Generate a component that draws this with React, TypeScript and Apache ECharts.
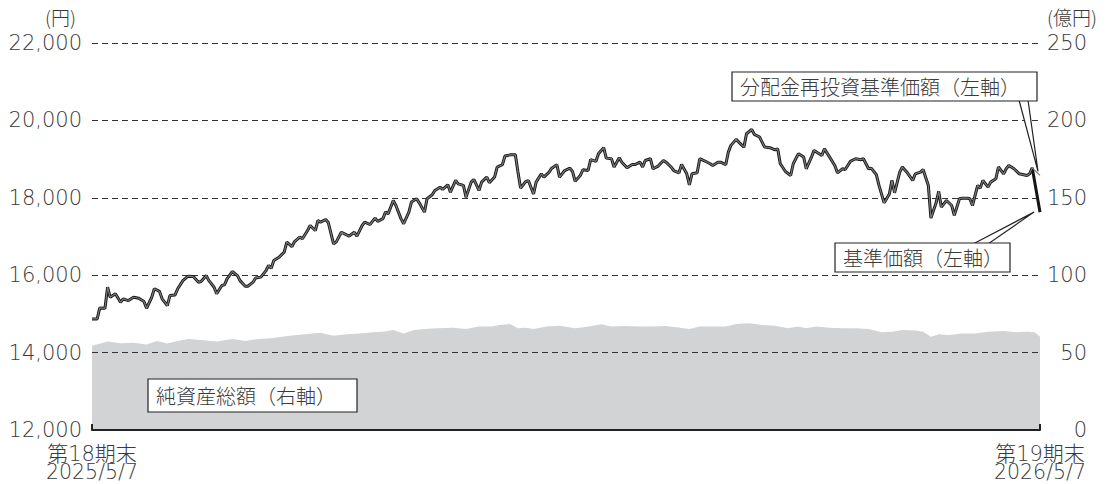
import { useEffect, useRef } from "react";
import * as echarts from "echarts";

// days since 2025/5/7 (第18期末)
const navDays = [
  0, 2, 3, 5, 6, 7, 9, 11, 12, 14, 16, 18, 20, 21, 23, 24, 26, 27, 29, 30, 32, 33, 35, 37, 39, 41, 42, 44, 45, 47,
  48, 50, 51, 52, 54, 56, 57, 59, 60, 62, 63, 65, 67, 68, 69, 70, 72, 74, 75, 77, 78, 80, 81, 83, 84, 86, 87, 88, 90,
  91, 93, 94, 96, 99, 101, 102, 104, 105, 107, 109, 110, 112, 113, 114, 116, 117, 119, 120, 122, 123, 125, 126, 128, 129,
  131, 132, 134, 135, 137, 138, 140, 141, 143, 144, 146, 147, 149, 150, 152, 153, 155, 156, 158, 159, 161, 163, 164, 165,
  167, 168, 170, 171, 173, 174, 176, 177, 179, 180, 182,
  184, 185, 186, 188, 189, 191, 192, 194, 195, 197, 198, 200, 201, 203, 204, 206, 208, 209, 211, 212, 213, 215, 216, 218,
  220, 221, 223, 224, 226, 227, 229, 230, 231, 233, 234, 236, 238, 239, 241, 242, 244, 245, 246, 248, 249, 251, 252, 254,
  255, 257, 258, 259, 261, 263, 264, 265, 267, 269, 270, 272, 274, 275,
  277, 278, 281, 282, 284, 286, 287, 289, 290, 292, 294, 296, 297, 299, 300, 302, 303, 305, 307, 308, 309, 311, 312, 314,
  316, 317, 319, 320, 322, 323, 325, 326, 327, 329, 331, 332, 334, 335, 337, 338, 339, 341, 342, 343, 345, 346, 348, 349,
  351, 352, 353, 355, 357, 360, 361, 362, 365,
];

// 基準価額（円）
const nav = [
  14870, 14870, 15155, 15145, 15690, 15430, 15520, 15300, 15390, 15345, 15430, 15405, 15320, 15145, 15430, 15650, 15580,
  15390, 15215, 15475, 15490, 15650, 15860, 15975, 15965, 15820, 15835, 15990, 15860, 15690, 15520, 15735, 15750, 15905,
  16095, 15990, 15860, 15715, 15715, 15820, 15930, 15950, 16120, 16250, 16180, 16380, 16465, 16595, 16855, 16740, 16870,
  16985, 16940, 17155, 17285, 17155, 17415, 17370, 17440,
  17355, 16810, 16855, 17110, 17010, 17110, 17010, 17285, 17370, 17310, 17475, 17390, 17460, 17630, 17585, 17930, 17800,
  17455, 17330, 17630, 17890, 17975, 17870, 17630, 17975, 18080, 18190, 18275, 18215, 18335, 18145, 18450, 18360, 18320,
  18015, 18405, 18475, 18190, 18405, 18535, 18390, 18535, 18795, 18855, 19080, 19110, 19110, 18665, 18250, 18420, 18445,
  18100, 18405, 18620, 18535, 18665, 18765, 18855, 18535, 18705,
  18765, 18680, 18430, 18575, 18725, 18705, 18985, 18940, 19140, 19295, 19025, 19010, 18795, 19035, 18920, 18775, 18860,
  18860, 18920, 18795, 18965, 19010, 18750, 18820, 18965, 18920, 18795, 18705, 18645, 18860, 18620, 18335, 18620, 18645,
  19010, 18950, 18880, 18835, 18920, 18920, 18855, 19180, 19355, 19510, 19440, 19310, 19655, 19765, 19640, 19570, 19440,
  19310, 19295, 19240, 19265, 18880, 18680, 18575, 18880, 19140, 19055, 18750,
  19050, 19225, 19095, 19265, 19050, 18835, 18645, 18750, 18730, 18940, 19010, 18985, 19010, 18750, 18765, 18595, 18320,
  17870, 18100, 18450, 18130, 18665, 18795, 18640, 18450, 18620, 18665, 18730, 18320, 17475, 17870, 18165, 17760, 17930,
  17800, 17545, 17975, 17990, 17990, 17975, 17800, 18320, 18250, 18450, 18275, 18405, 18490, 18795, 18620, 18750, 18835,
  18750, 18620, 18575, 18620, 18775, 17630,
];

// 分配金再投資基準価額（円）: identical to 基準価額 until the final day
const reinvestLast = 18580;
const reinvest = [...nav.slice(0, -1), reinvestLast];

// 純資産総額（億円）
const assetDays = [
  0, 6, 11, 16, 21, 25, 29, 33, 37, 42, 48, 54, 59, 64, 69, 76, 82, 88,
  93, 98, 103, 108, 112, 116, 120, 124, 128, 133, 139, 144, 149, 154, 157, 161, 164, 167, 170, 175, 180,
  186, 190, 196, 200, 205, 211, 216, 221, 225, 230, 234, 240, 244, 248, 253, 258, 263, 268, 272,
  275, 279, 284, 289, 294, 299, 304, 308, 312, 317, 320, 323, 326, 330, 335, 340, 345, 351, 356, 360, 363, 365,
];
const assets = [
  54.5, 57.1, 56.0, 56.4, 55.3, 57.5, 55.8, 57.5, 58.8, 58.1, 57.1, 58.8, 57.5, 58.8, 59.2, 60.9, 61.8, 62.9,
  60.9, 61.8, 62.4, 63.1, 63.5, 64.6, 62.4, 64.6, 65.2, 65.7, 66.1, 65.2, 66.8, 66.8, 67.8, 68.5, 65.7, 66.1, 65.2, 66.8, 67.4,
  65.7, 66.5, 68.3, 66.8, 67.2, 66.8, 66.8, 67.2, 66.3, 65.2, 66.8, 66.8, 66.8, 68.5, 68.9, 67.8, 67.4, 65.7, 66.8,
  65.7, 66.8, 66.1, 65.7, 65.7, 65.2, 63.1, 63.5, 64.6, 64.2, 63.5, 60.3, 61.8, 61.4, 62.4, 62.4, 63.5, 63.9, 63.1, 63.5, 63.1, 60.3,
];

const xTickDays = [0, 365];
const xPeriodLabels = ["第18期末", "第19期末"];
const xDateLabels = ["2025/5/7", "2026/5/7"];
const leftAxis = { min: 12000, max: 22000, interval: 2000, unit: "(円)" };
const rightAxis = { min: 0, max: 250, interval: 50, unit: "(億円)" };
const labelNav = "基準価額（左軸）";
const labelReinvest = "分配金再投資基準価額（左軸）";
const labelAssets = "純資産総額（右軸）";

const FONT = '"Noto Sans CJK JP", "Noto Sans", sans-serif';
const NUMFONT = '"DejaVu Sans", "Noto Sans CJK JP", sans-serif';
const TXT = "#3a3a3a";
const W = 300;

export default function App() {
  const ref = useRef<HTMLDivElement>(null);

  useEffect(() => {
    const chart = echarts.init(ref.current!, null, { renderer: "svg" });
    const xLabelBase = {
      show: true,
      customValues: xTickDays,
      fontFamily: NUMFONT,
      fontWeight: W,
      color: TXT,
      showMinLabel: true,
      showMaxLabel: true,
    };
    chart.setOption({
      animation: false,
      backgroundColor: "#ffffff",
      textStyle: { fontFamily: FONT },
      grid: { left: 92, right: 68, top: 43, bottom: 54, outerBoundsMode: "none" },
      xAxis: [
        {
          type: "value",
          min: 0,
          max: 365,
          axisLine: { show: true, lineStyle: { color: "#222", width: 2 } },
          axisTick: { show: true, inside: true, length: 6, lineStyle: { color: "#222", width: 2 }, customValues: xTickDays },
          axisLabel: {
            ...xLabelBase,
            fontSize: 21,
            lineHeight: 20,
            margin: 14,
            formatter: (v: number) => xPeriodLabels[xTickDays.indexOf(Math.round(v))] ?? "",
          },
          splitLine: { show: false },
          z: 3,
        },
        {
          type: "value",
          min: 0,
          max: 365,
          position: "bottom",
          offset: 17,
          axisLine: { show: false },
          axisTick: { show: false },
          axisLabel: {
            ...xLabelBase,
            fontSize: 20.5,
            lineHeight: 18,
            margin: 16,
            formatter: (v: number) => xDateLabels[xTickDays.indexOf(Math.round(v))] ?? "",
          },
          splitLine: { show: false },
        },
      ],
      yAxis: [
        {
          type: "value",
          min: leftAxis.min,
          max: leftAxis.max,
          interval: leftAxis.interval,
          axisLine: { show: false },
          axisTick: { show: false },
          axisLabel: {
            fontFamily: NUMFONT,
            fontWeight: W,
            fontSize: 21,
            color: TXT,
            margin: 10,
            formatter: (v: number) => v.toLocaleString("en-US"),
          },
          splitLine: { show: true, lineStyle: { color: "#333", width: 1.2, type: [6, 4] } },
          z: 1.5,
        },
        {
          type: "value",
          min: rightAxis.min,
          max: rightAxis.max,
          interval: rightAxis.interval,
          position: "right",
          axisLine: { show: false },
          axisTick: { show: false },
          axisLabel: { fontFamily: NUMFONT, fontWeight: W, fontSize: 21, color: TXT, margin: 47, align: "right" },
          splitLine: { show: false },
        },
      ],
      series: [
        {
          type: "line",
          name: labelAssets,
          yAxisIndex: 1,
          data: assetDays.map((d, i) => [d, assets[i]]),
          symbol: "none",
          lineStyle: { width: 0 },
          areaStyle: { color: "#d2d3d5", opacity: 1 },
          z: 1,
        },
        {
          type: "line",
          name: labelNav,
          yAxisIndex: 0,
          data: navDays.map((d, i) => [d, nav[i]]),
          symbol: "none",
          lineStyle: { color: "#151515", width: 3 },
          z: 2,
        },
        {
          type: "line",
          name: labelReinvest,
          yAxisIndex: 0,
          data: navDays.map((d, i) => [d, reinvest[i]]),
          symbol: "none",
          lineStyle: { color: "#7a7a7a", width: 1.2 },
          z: 2.5,
        },
      ],
    });

    const pNav = chart.convertToPixel({ seriesIndex: 1 }, [navDays[navDays.length - 1], nav[nav.length - 1]]) as number[];
    const pRe = chart.convertToPixel({ seriesIndex: 2 }, [navDays[navDays.length - 1], reinvestLast]) as number[];

    const boxStyle = { fill: "#ffffff", stroke: "#222", lineWidth: 1.2 };
    const textStyle = (text: string) => ({
      text,
      font: `${W} 20px ${FONT}`,
      fill: TXT,
      verticalAlign: "middle",
      align: "left",
    });

    chart.setOption({
      graphic: [
        { type: "text", left: 45, top: 7, style: { text: leftAxis.unit, font: `${W} 19px ${FONT}`, fill: TXT }, z: 10 },
        { type: "text", left: 1047, top: 7, style: { text: rightAxis.unit, font: `${W} 19px ${FONT}`, fill: TXT }, z: 10 },
        // callout: reinvested
        {
          type: "polygon",
          shape: { points: [[1019, 100], [pRe[0] - 2, pRe[1] - 4], [1028, 100]] },
          style: boxStyle,
          z: 10,
        },
        { type: "rect", shape: { x: 732, y: 72, width: 305, height: 29 }, style: boxStyle, z: 11 },
        { type: "text", x: 740, y: 86.5, style: textStyle(labelReinvest), z: 12 },
        // callout: nav
        {
          type: "polygon",
          shape: { points: [[973, 244], [pNav[0] - 6, pNav[1]], [988, 244]] },
          style: boxStyle,
          z: 10,
        },
        { type: "rect", shape: { x: 835, y: 243, width: 175, height: 29 }, style: boxStyle, z: 11 },
        { type: "text", x: 843, y: 257.5, style: textStyle(labelNav), z: 12 },
        // label: assets
        { type: "rect", shape: { x: 148, y: 379, width: 209, height: 33 }, style: boxStyle, z: 11 },
        { type: "text", x: 156, y: 395.5, style: textStyle(labelAssets), z: 12 },
      ],
    });

    return () => chart.dispose();
  }, []);

  return <div ref={ref} style={{ position: "fixed", left: 0, top: 0, width: 1108, height: 484 }} />;
}
